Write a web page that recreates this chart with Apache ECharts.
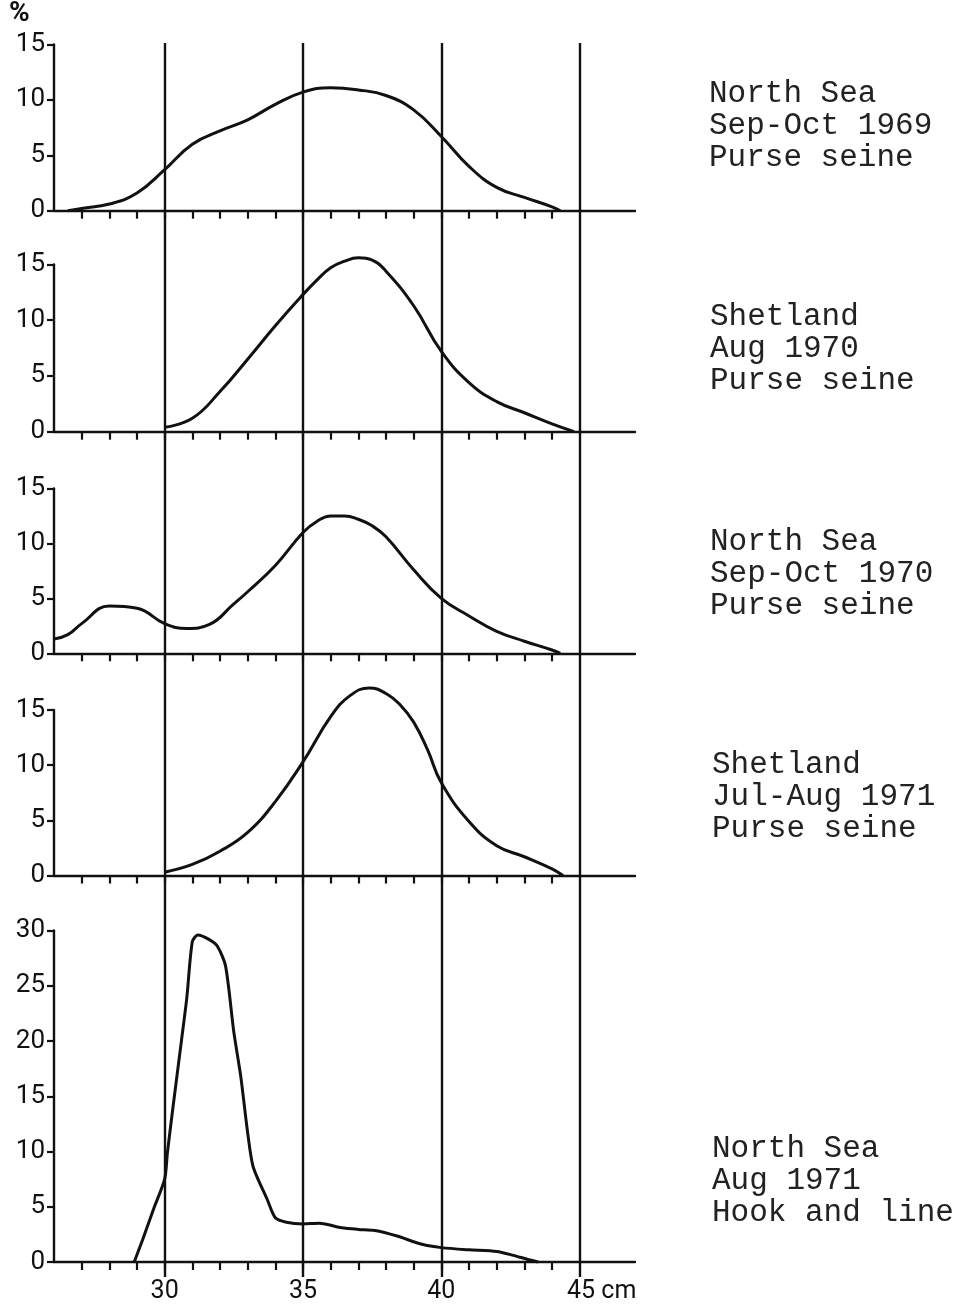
<!DOCTYPE html>
<html>
<head>
<meta charset="utf-8">
<script src="https://cdn.jsdelivr.net/npm/echarts@6/dist/echarts.min.js"></script>
<style>
  html, body { margin: 0; padding: 0; background: #fff; }
  #chart { width: 971px; height: 1311px; }
</style>
</head>
<body>
<div id="chart"></div>
<script>
// ---- Data (length in cm, percentage) ----
const p1Len = [26.5, 27, 28, 29, 30, 31, 32, 33, 34, 35, 36, 37, 38, 39, 40, 41, 42, 43, 44, 44.3];
const p1Pct = [0, 0.2, 0.6, 1.6, 3.7, 6.0, 7.2, 8.2, 9.6, 10.7, 11.1, 10.9, 10.4, 9.1, 6.7, 4.0, 2.1, 1.2, 0.35, 0];

const p2Len = [30, 31, 32, 33, 34, 35, 35.5, 36, 36.5, 37, 37.5, 38, 39, 40, 41, 42, 43, 44, 44.8];
const p2Pct = [0.4, 1.2, 3.6, 6.5, 9.5, 12.3, 13.6, 14.7, 15.3, 15.6, 15.4, 14.4, 11.3, 7.2, 4.4, 2.7, 1.7, 0.7, 0];

const p3Len = [26, 26.5, 27, 28, 29, 30, 30.8, 31.6, 32.5, 33, 34, 35, 35.5, 36, 36.5, 37, 37.5, 38, 39, 40, 41, 42, 43, 44, 44.3];
const p3Pct = [1.3, 1.7, 2.7, 4.3, 4.1, 2.7, 2.25, 2.6, 4.5, 5.6, 8.0, 11.0, 12.0, 12.5, 12.5, 12.2, 11.6, 10.6, 7.6, 5.0, 3.4, 2.0, 1.1, 0.3, 0];

const p4Len = [30, 31, 32, 33, 34, 35, 36, 36.7, 37.4, 38, 38.5, 39, 39.5, 40, 41, 42, 43, 44, 44.4];
const p4Pct = [0.3, 1.0, 2.2, 3.9, 6.7, 10.3, 14.4, 16.3, 17.0, 16.5, 15.5, 13.9, 11.4, 8.4, 4.9, 2.7, 1.7, 0.6, 0];

const p5Len = [28.9, 29.2, 29.6, 30.0, 30.1, 30.3, 30.6, 30.8, 31.0, 31.2, 31.6, 31.9, 32.2, 32.5, 32.75, 33.0, 33.2, 33.7, 34.0, 34.4, 35.0, 35.6, 36.4, 37.0, 37.6, 38.4, 39.3, 40.0, 41.0, 42.0, 42.6, 43.1, 43.5];
const p5Pct = [0, 2.0, 4.8, 7.5, 9.9, 14.0, 19.9, 23.9, 29.0, 29.6, 29.2, 28.6, 26.8, 20.8, 16.8, 11.7, 8.6, 5.7, 4.0, 3.6, 3.45, 3.5, 3.1, 2.95, 2.85, 2.35, 1.6, 1.3, 1.1, 0.95, 0.6, 0.25, 0];

const xTickValues = [27, 28, 29, 30, 31, 32, 33, 34, 35, 36, 37, 38, 39, 40, 41, 42, 43, 44];
const xLabelValues = [30, 35, 40, 45];
const guideLines = [30, 35, 40, 45];
const yMaxes = [15, 15, 15, 15, 30];

const panelTexts = [
  'North Sea\nSep-Oct 1969\nPurse seine',
  'Shetland\nAug 1970\nPurse seine',
  'North Sea\nSep-Oct 1970\nPurse seine',
  'Shetland\nJul-Aug 1971\nPurse seine',
  'North Sea\nAug 1971\nHook and line'
];

// ---- Layout ----
const panelTop = [44.5, 264.5, 488.5, 710, 930.5];
const panelZero = [210.7, 431.7, 653.3, 875.5, 1262];
const textPos = [[709, 78], [710, 301], [710, 526], [712, 749], [712, 1133]];
const LEFT = 54, RIGHT = 971 - 635;
const INK = '#111';

const lens = [p1Len, p2Len, p3Len, p4Len, p5Len];
const pcts = [p1Pct, p2Pct, p3Pct, p4Pct, p5Pct];

const grid = [], xAxis = [], yAxis = [], series = [], title = [];

for (let i = 0; i < 5; i++) {
  const last = i === 4;
  grid.push({ left: LEFT, right: RIGHT, top: panelTop[i], height: panelZero[i] - panelTop[i] });
  xAxis.push({
    type: 'value', gridIndex: i, min: 26, max: 47,
    axisLine: { show: true, lineStyle: { color: INK, width: 2.4 } },
    axisTick: { show: true, customValues: xTickValues, length: 8, lineStyle: { color: INK, width: 2.2 } },
    axisLabel: {
      show: last, customValues: xLabelValues, margin: 17,
      fontFamily: 'Roboto', fontSize: 25, color: INK,
      formatter: v => v === 45 ? '{p|}45 cm' : String(v),
      rich: { p: { width: 44 } }
    },
    splitLine: { show: false }
  });
  yAxis.push({
    type: 'value', gridIndex: i, min: 0, max: yMaxes[i], interval: 5,
    axisLine: { show: true, lineStyle: { color: INK, width: 2.4 } },
    axisTick: { show: true, length: 7, lineStyle: { color: INK, width: 2.2 } },
    axisLabel: { fontFamily: 'Roboto', fontSize: 26, color: INK, margin: 9 },
    splitLine: { show: false }
  });
  series.push({
    type: 'line', xAxisIndex: i, yAxisIndex: i,
    data: lens[i].map((x, k) => [x, pcts[i][k]]),
    smooth: last ? 0.25 : 0.45,
    clip: false,
    showSymbol: false, symbol: 'none',
    lineStyle: { color: INK, width: 3 },
    z: 5
  });
  title.push({
    text: panelTexts[i], left: textPos[i][0], top: textPos[i][1], padding: 0,
    textStyle: { fontFamily: 'Liberation Mono', fontSize: 31, fontWeight: 'normal', color: '#222', lineHeight: 32 }
  });
}

// overlay grid for the full-height vertical guide lines
grid.push({ left: LEFT, right: RIGHT, top: 43, height: 1277 - 43 });
xAxis.push({ type: 'value', gridIndex: 5, min: 26, max: 47, show: false });
yAxis.push({ type: 'value', gridIndex: 5, min: 0, max: 1, show: false });
series.push({
  type: 'line', xAxisIndex: 5, yAxisIndex: 5, data: [],
  markLine: {
    silent: true, symbol: 'none', animation: false,
    label: { show: false },
    lineStyle: { color: INK, width: 2.4, type: 'solid' },
    data: guideLines.map(v => ({ xAxis: v }))
  }
});

title.push({
  text: '%', left: 9, top: 0, padding: 0,
  textStyle: { fontFamily: 'Roboto', fontSize: 28, fontWeight: 'bold', color: INK }
});

const chart = echarts.init(document.getElementById('chart'), null, { renderer: 'canvas' });
chart.setOption({
  animation: false,
  backgroundColor: '#fff',
  title, grid, xAxis, yAxis, series
});
</script>
</body>
</html>
